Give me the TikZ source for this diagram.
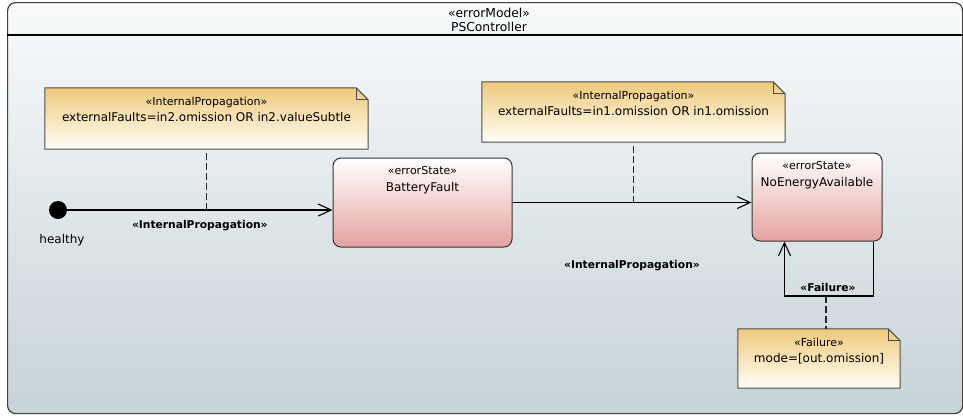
\documentclass[tikz,border=0pt]{standalone}
\usepackage{fontspec}
\setmainfont{DejaVu Sans}
\usetikzlibrary{positioning, calc, arrows.meta}
\definecolor{emFrameTop}{HTML}{F8FAFB}
\definecolor{emFrameBot}{HTML}{C6D3D8}
\definecolor{emNoteTop}{HTML}{EFC97C}
\definecolor{emNoteBot}{HTML}{FFFEF6}
\definecolor{emStateBot}{HTML}{E4A29D}
\newcommand{\emst}[1]{{\fontsize{11}{13}\selectfont #1}}
\tikzset{
  >={Straight Barb[length=13pt, width=12pt]},
  em frame/.style={draw=black!75, line width=1.2pt, rounded corners=8pt,
    top color=emFrameTop, bottom color=emFrameBot, inner sep=0pt,
    minimum width=955pt, minimum height=411pt, anchor=north west},
  em head/.style={align=center, inner sep=0pt, font=\fontsize{12.3}{14}\selectfont},
  em rule/.style={draw=black, line width=1.1pt},
  em state/.style={draw=black!80, line width=1pt, rounded corners=8pt,
    top color=white, bottom color=emStateBot, inner sep=0pt},
  em note/.style={inner sep=0pt},
  em notebox/.style={draw=black!70, line width=1pt, top color=emNoteTop,
    bottom color=emNoteBot},
  em text/.style={anchor=north, yshift=-9pt, inner sep=0pt, align=center,
    font=\fontsize{12}{16.3}\selectfont},
  em init/.style={circle, fill=black, minimum size=18pt, inner sep=0pt},
  em trans/.style={draw=black, ->, line width=1.1pt},
  em link/.style={draw=black!85, dash pattern=on 7pt off 3pt, line width=1.1pt},
  em tlabel/.style={inner sep=0pt, font=\bfseries\fontsize{10.7}{13}\selectfont},
}
% note outline with a folded corner, drawn round a named node
\newcommand{\emnote}[1]{%
  \shadedraw[em notebox] (#1.south west) |- ($(#1.north east)+(-12pt,0)$)
    -- ($(#1.north east)+(0,-12pt)$) |- cycle;
  \draw[draw=black!70, line width=1pt]
    ($(#1.north east)+(-12pt,0)$) |- ($(#1.north east)+(0,-12pt)$);}

\begin{document}
\begin{tikzpicture}[x=1pt, y=-1pt]
 \useasboundingbox (0,0) rectangle (963,416);
 % frame and header
 \node[em frame] (frame) at (7,2) {};
 \coordinate (hdr) at (0,35);
 \draw[em rule] (frame.west |- hdr) -- (frame.east |- hdr);
 \node[em head] (title) at (489,19.5) {«errorModel»\\PSController};

 % states
 \node[em init] (init) at (58,210) {};
 \node[below=15pt of init, xshift=4pt, inner sep=0pt, font=\fontsize{12}{14}\selectfont]
   (initlbl) {healthy};
 \node[em state, minimum width=179pt, minimum height=89pt,
   label={[em text, name=batterylbl]north:\emst{«errorState»}\\BatteryFault}]
   (battery) at (422.5,202.5) {};
 \node[em state, minimum width=130pt, minimum height=88pt,
   label={[em text, name=noenergylbl]north:\emst{«errorState»}\\NoEnergyAvailable}]
   (noenergy) at (817,197) {};

 % notes
 \node[em note, minimum width=323pt, minimum height=61pt] (pnote1) at (206.5,118.5) {};
 \emnote{pnote1}
 \node[em text] (pnote1lbl) at (pnote1.north)
   {\emst{«InternalPropagation»}\\externalFaults=in2.omission OR in2.valueSubtle};
 \node[em note, minimum width=303pt, minimum height=60pt] (pnote2) at (633.5,112) {};
 \emnote{pnote2}
 \node[em text] (pnote2lbl) at (pnote2.north)
   {\emst{«InternalPropagation»}\\externalFaults=in1.omission OR in1.omission};
 \node[em note, minimum width=162pt, minimum height=59pt] (fnote) at (819,358.5) {};
 \emnote{fnote}
 \node[em text] (fnotelbl) at (fnote.north) {\emst{«Failure»}\\mode=[out.omission]};

 % transitions
 \draw[em trans] (init.east) -- node[em tlabel, below=10pt] (t1lbl) {«InternalPropagation»}
   (init.east -| battery.west);
 \draw[em trans] (battery.east) -- node[em tlabel, below=57pt] (t2lbl) {«InternalPropagation»}
   (battery.east -| noenergy.west);
 \coordinate (fl) at (826,296);
 \draw[em trans] ([xshift=-9pt]noenergy.south east) |- (fl)
   node[em tlabel, above=4pt, xshift=2pt] (t3lbl) {«Failure»}
   -| ([xshift=33pt]noenergy.south west);

 % note links
 \draw[em link, shorten <=4pt] (pnote1.south) -- (pnote1.south |- init.east);
 \draw[em link, shorten <=4pt] (pnote2.south) -- (pnote2.south |- battery.east);
 \draw[em link] (fl) -- (fl |- fnote.north);
\end{tikzpicture}
\end{document}
